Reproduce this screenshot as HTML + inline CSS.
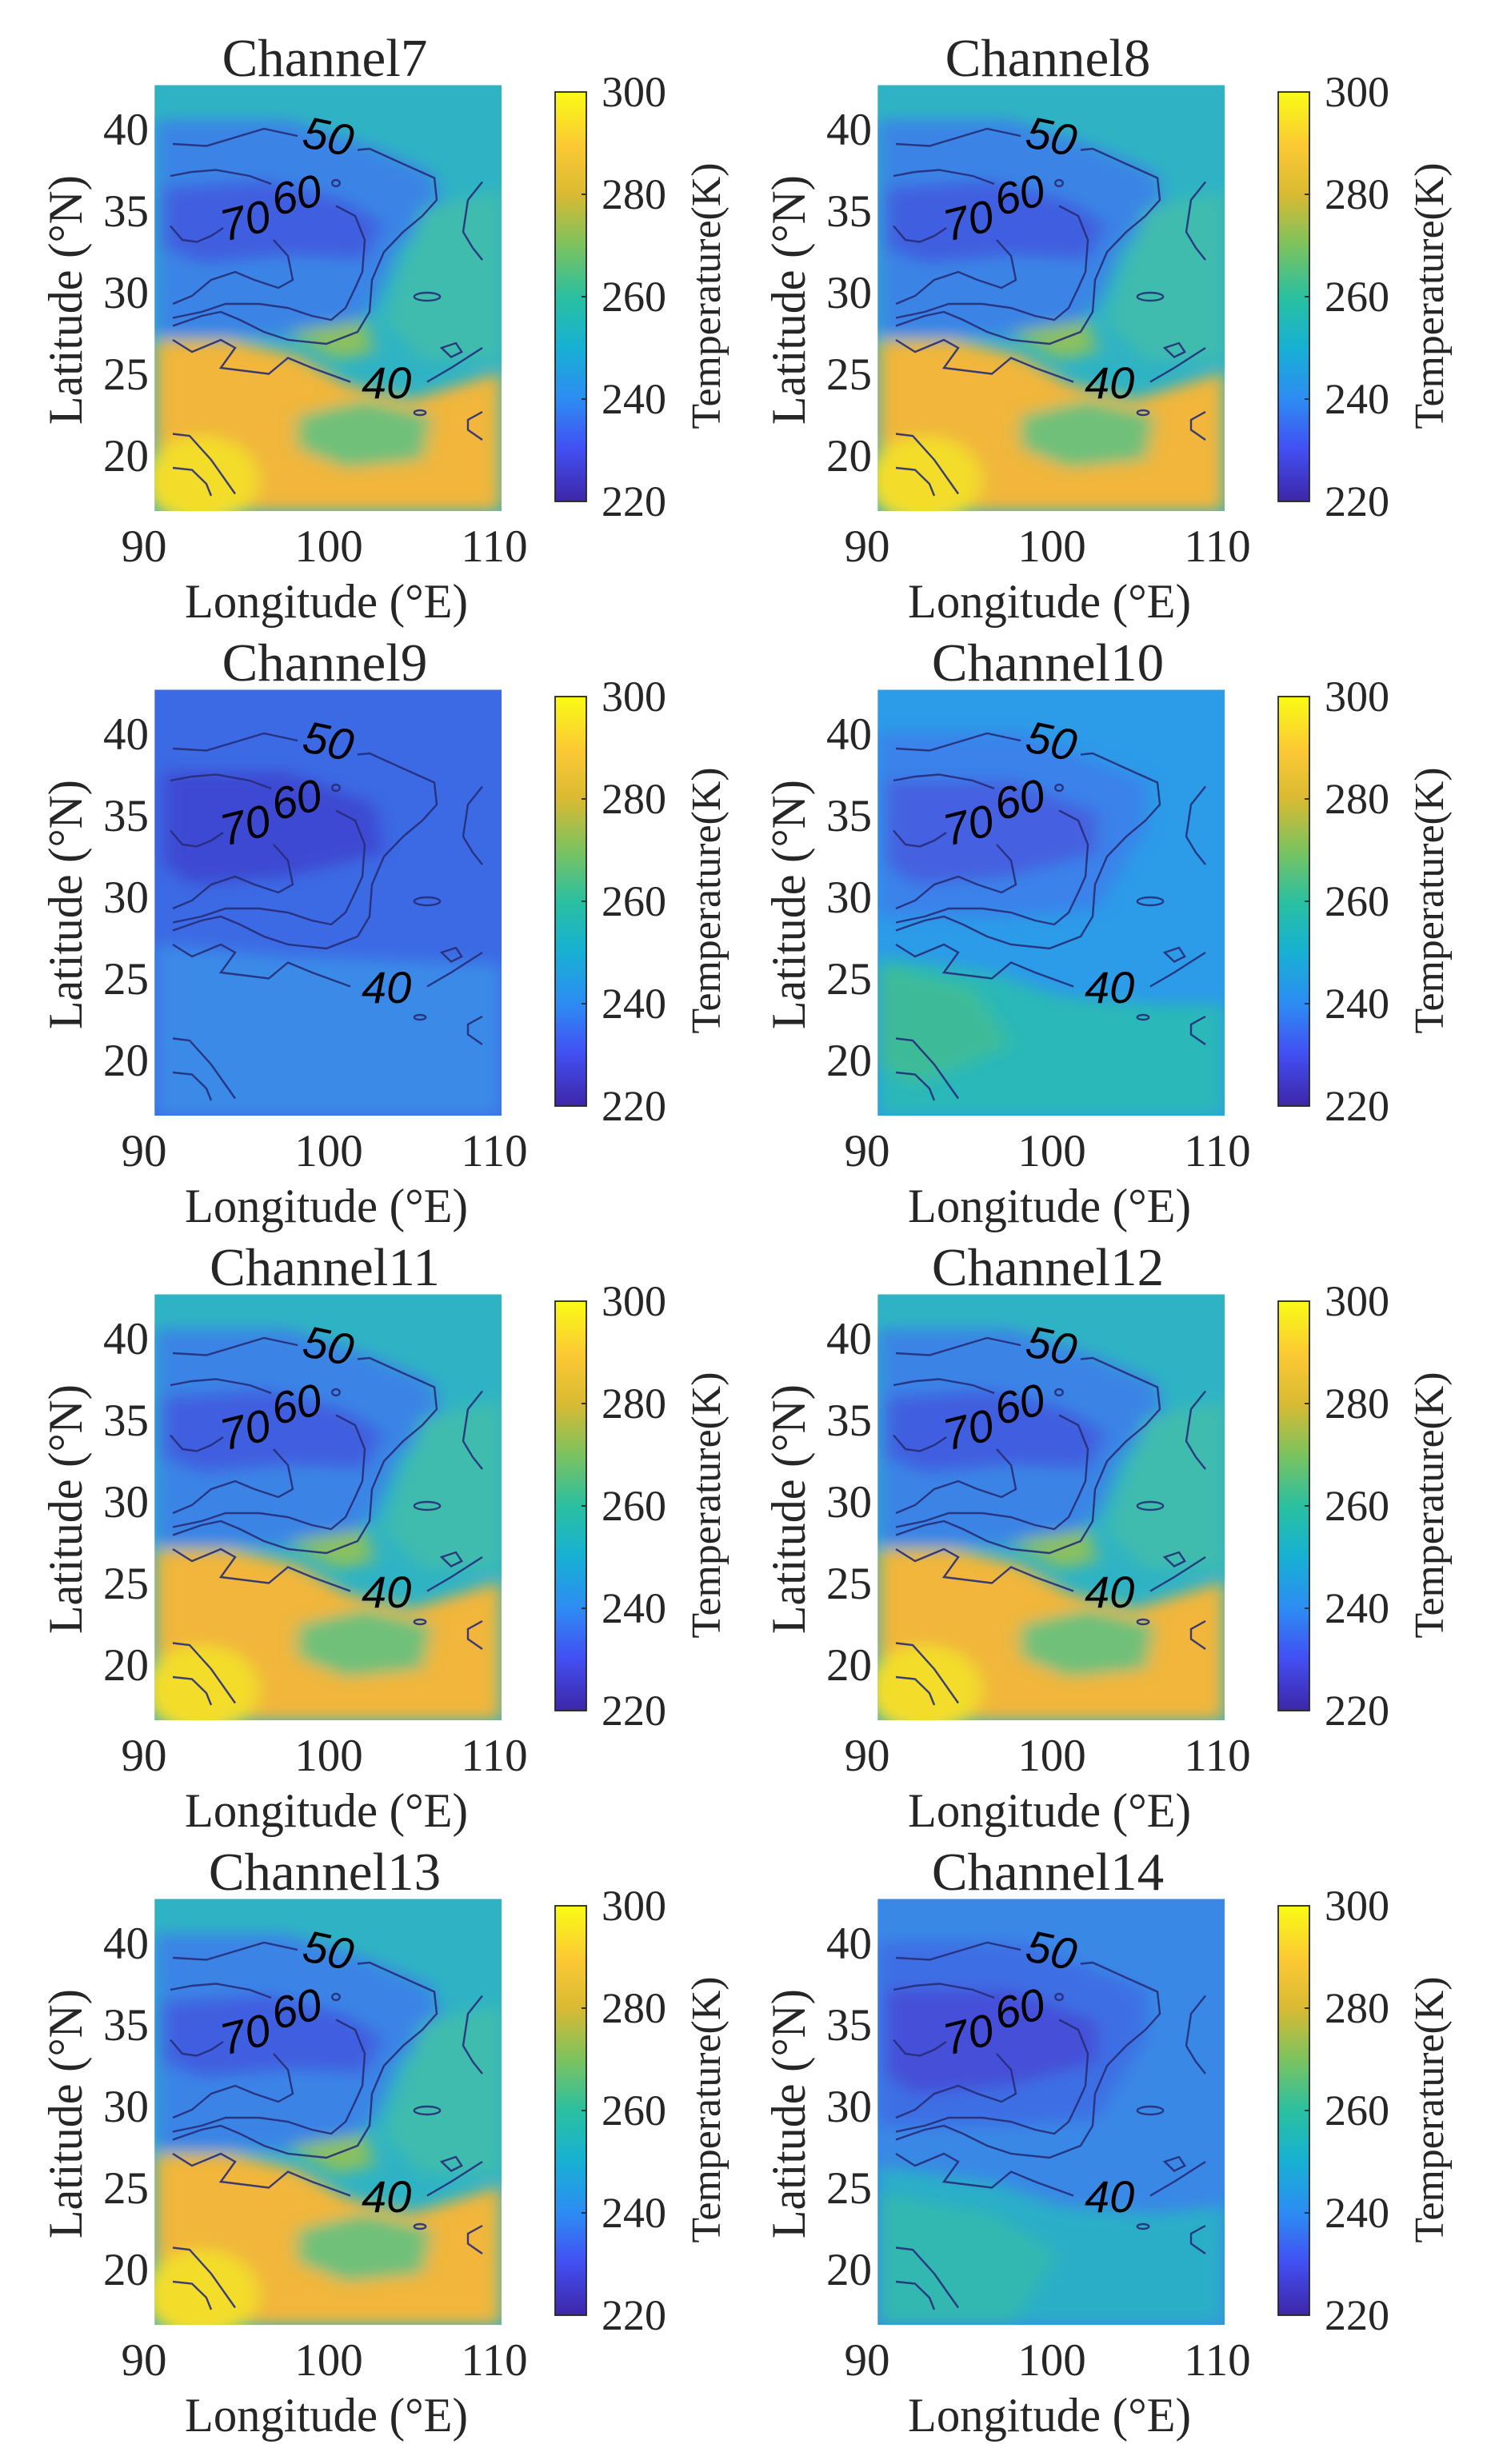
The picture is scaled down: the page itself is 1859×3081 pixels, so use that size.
<!DOCTYPE html>
<html><head><meta charset="utf-8"><style>
html,body{margin:0;padding:0;background:#fff;}
svg{display:block;}
text{font-family:"Liberation Serif",serif;fill:#262626;}
.cl{font-family:"Liberation Sans",sans-serif;fill:#000;font-style:italic;}
</style></head><body>
<svg width="1859" height="3081" viewBox="0 0 1859 3081" xmlns="http://www.w3.org/2000/svg">
<defs>
<linearGradient id="cb" x1="0" y1="1" x2="0" y2="0">
<stop offset="0" stop-color="#3e26a8"/><stop offset="0.13" stop-color="#4250f3"/>
<stop offset="0.25" stop-color="#2d8cf3"/><stop offset="0.38" stop-color="#17b1d2"/>
<stop offset="0.5" stop-color="#2ac0a0"/><stop offset="0.63" stop-color="#7fc25d"/>
<stop offset="0.75" stop-color="#d9ba33"/><stop offset="0.87" stop-color="#fcc934"/>
<stop offset="1" stop-color="#f9fb15"/></linearGradient>
<filter id="bl" x="-20%" y="-20%" width="140%" height="140%"><feGaussianBlur stdDeviation="18"/></filter>
<clipPath id="mc"><rect x="322" y="213" width="723" height="1065"/></clipPath>
<g id="cont" fill="none" stroke="#262c78" stroke-width="2.4" stroke-opacity="0.9">
<path vector-effect="non-scaling-stroke" d="M360,360 L430,365 500,340 550,322 620,340"/>
<path vector-effect="non-scaling-stroke" d="M745,375 L770,372 840,410 905,445 910,500 880,540 840,580 800,630 775,700 770,780 745,830 680,860 600,850 550,830 500,800 460,780 420,790 360,815"/>
<path vector-effect="non-scaling-stroke" d="M355,440 L400,430 450,425 520,440 565,460"/>
<path vector-effect="non-scaling-stroke" d="M700,515 L740,540 760,600 755,680 740,720 720,770 690,800 650,790 600,770 540,760 470,760 420,780 360,795"/>
<path vector-effect="non-scaling-stroke" d="M355,565 L380,600 410,605 440,590 465,570"/>
<path vector-effect="non-scaling-stroke" d="M570,600 L600,640 610,700 580,720 530,700 490,680 440,700 400,740 360,760"/>
<path vector-effect="non-scaling-stroke" d="M360,850 L400,880 460,850 490,870 460,920 560,935 600,895 650,920 730,955"/>
<path vector-effect="non-scaling-stroke" d="M890,955 L940,920 1005,870"/>
<path vector-effect="non-scaling-stroke" d="M360,1085 L395,1090 440,1150 490,1235"/>
<path vector-effect="non-scaling-stroke" d="M360,1170 L400,1175 430,1210 440,1240"/>
<path vector-effect="non-scaling-stroke" d="M1005,455 L975,500 965,580 985,620 1005,650"/>
<ellipse vector-effect="non-scaling-stroke" cx="890" cy="742" rx="27" ry="10"/>
<path vector-effect="non-scaling-stroke" d="M920,870 L950,858 962,880 940,893 Z"/>
<ellipse vector-effect="non-scaling-stroke" cx="875" cy="1032" rx="12" ry="6"/>
<path vector-effect="non-scaling-stroke" d="M1005,1030 L975,1050 975,1075 1005,1100"/>
<circle vector-effect="non-scaling-stroke" cx="700" cy="458" r="8"/>
</g>
<g id="deco">
<rect x="694" y="115" width="39" height="512" fill="url(#cb)" stroke="#262626" stroke-width="1.8"/>
<g stroke="#262626" stroke-width="1.8"><line x1="727" y1="243" x2="733" y2="243"/><line x1="727" y1="371" x2="733" y2="371"/><line x1="727" y1="499" x2="733" y2="499"/></g>
<g font-size="54">
<text x="752" y="133">300</text><text x="752" y="261">280</text><text x="752" y="389">260</text><text x="752" y="517">240</text><text x="752" y="645">220</text>
</g>
<g font-size="57">
<text x="180" y="702" text-anchor="middle">90</text><text x="411" y="702" text-anchor="middle">100</text><text x="618" y="702" text-anchor="middle">110</text>
<text x="186" y="181" text-anchor="end">40</text><text x="186" y="283" text-anchor="end">35</text><text x="186" y="385" text-anchor="end">30</text><text x="186" y="487" text-anchor="end">25</text><text x="186" y="589" text-anchor="end">20</text>
</g>
<text x="408" y="772" font-size="60" text-anchor="middle" textLength="354" lengthAdjust="spacingAndGlyphs">Longitude (°E)</text>
<text transform="translate(102,375) rotate(-90)" font-size="60" text-anchor="middle" textLength="312" lengthAdjust="spacingAndGlyphs">Latitude (°N)</text>
<text transform="translate(900,370) rotate(-90)" font-size="52" text-anchor="middle" textLength="333" lengthAdjust="spacingAndGlyphs">Temperature(K)</text>
<text class="cl" font-size="56" transform="translate(376,183) rotate(12)">50</text>
<text class="cl" font-size="56" transform="translate(345,270) rotate(-14)">60</text>
<text class="cl" font-size="56" transform="translate(281,302) rotate(-14)">70</text>
<text class="cl" font-size="56" x="452" y="498">40</text>
</g>
<g id="warm" clip-path="url(#mc)">
<rect x="322" y="213" width="723" height="1065" fill="#2fb3c4"/>
<g filter="url(#bl)">
<path d="M322,300 L600,300 760,360 900,430 920,520 830,620 780,760 700,850 560,840 322,840 Z" fill="#3a84e6"/>
<path d="M340,470 L560,450 720,500 800,560 760,650 600,640 420,660 340,620 Z" fill="#3f5ee0"/>
<path d="M880,520 L1045,480 1045,900 880,900 800,800 Z" fill="#3fbcae"/>
<path d="M322,850 L480,850 620,890 720,960 860,1000 1045,930 1045,1278 322,1278 Z" fill="#f1b63a"/>
<path d="M620,1040 L760,1000 900,1040 880,1150 720,1170 620,1120 Z" fill="#6fc07a"/>
<path d="M600,830 L760,800 780,880 700,900 Z" fill="#8ac061"/>
<ellipse cx="420" cy="1200" rx="120" ry="110" fill="#f3dd2c"/>
</g>
</g>
<g id="cool" clip-path="url(#mc)">
<rect x="322" y="213" width="723" height="1065" fill="#3c6ae4"/>
<g filter="url(#bl)">
<path d="M322,850 L600,880 1045,900 1045,1278 322,1278 Z" fill="#3a8ae8"/>
<path d="M340,420 L600,420 780,500 800,620 600,680 400,700 340,650 Z" fill="#3e48d2"/>
</g>
</g>
<g id="mid" clip-path="url(#mc)">
<rect x="322" y="213" width="723" height="1065" fill="#2c9be8"/>
<g filter="url(#bl)">
<path d="M322,320 L620,320 880,440 880,560 780,760 600,780 322,780 Z" fill="#3a82ea"/>
<path d="M340,440 L600,440 780,520 780,620 600,680 400,700 340,650 Z" fill="#4560e0"/>
<path d="M322,880 L560,920 700,980 900,1000 1045,1000 1045,1278 322,1278 Z" fill="#2ab8b8"/>
<path d="M322,900 L520,960 600,1100 400,1200 322,1150 Z" fill="#3dbb98"/>
</g>
</g>
<g id="m14" clip-path="url(#mc)">
<rect x="322" y="213" width="723" height="1065" fill="#3a88e6"/>
<g filter="url(#bl)">
<path d="M322,320 L620,320 880,440 880,560 780,760 600,780 322,780 Z" fill="#3d6ee4"/>
<path d="M340,440 L600,440 780,520 780,620 600,680 400,700 340,650 Z" fill="#4450d8"/>
<path d="M322,880 L560,920 700,980 900,1000 1045,980 1045,1278 322,1278 Z" fill="#2aaec8"/>
<path d="M322,950 L560,1000 700,1100 600,1278 322,1278 Z" fill="#30b8b0"/>
</g>
</g>
</defs>

<g transform="translate(0,0)"><g transform="scale(0.6,0.5)"><use href="#warm"/><use href="#cont"/></g><use href="#deco"/><text x="406" y="95" font-size="67" text-anchor="middle">Channel7</text></g>
<g transform="translate(904,0)"><g transform="scale(0.6,0.5)"><use href="#warm"/><use href="#cont"/></g><use href="#deco"/><text x="406" y="95" font-size="67" text-anchor="middle">Channel8</text></g>
<g transform="translate(0,756)"><g transform="scale(0.6,0.5)"><use href="#cool"/><use href="#cont"/></g><use href="#deco"/><text x="406" y="95" font-size="67" text-anchor="middle">Channel9</text></g>
<g transform="translate(904,756)"><g transform="scale(0.6,0.5)"><use href="#mid"/><use href="#cont"/></g><use href="#deco"/><text x="406" y="95" font-size="67" text-anchor="middle">Channel10</text></g>
<g transform="translate(0,1512)"><g transform="scale(0.6,0.5)"><use href="#warm"/><use href="#cont"/></g><use href="#deco"/><text x="406" y="95" font-size="67" text-anchor="middle">Channel11</text></g>
<g transform="translate(904,1512)"><g transform="scale(0.6,0.5)"><use href="#warm"/><use href="#cont"/></g><use href="#deco"/><text x="406" y="95" font-size="67" text-anchor="middle">Channel12</text></g>
<g transform="translate(0,2268)"><g transform="scale(0.6,0.5)"><use href="#warm"/><use href="#cont"/></g><use href="#deco"/><text x="406" y="95" font-size="67" text-anchor="middle">Channel13</text></g>
<g transform="translate(904,2268)"><g transform="scale(0.6,0.5)"><use href="#m14"/><use href="#cont"/></g><use href="#deco"/><text x="406" y="95" font-size="67" text-anchor="middle">Channel14</text></g>
</svg>
</body></html>
